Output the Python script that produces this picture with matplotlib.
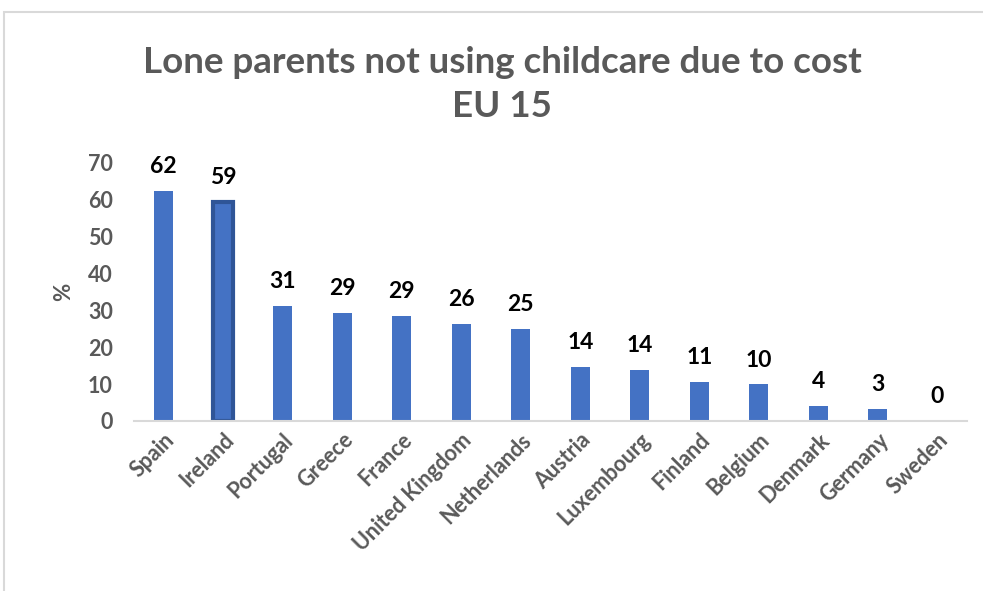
import matplotlib.pyplot as plt
from matplotlib.patches import Rectangle
import numpy as np

plt.rcParams['font.family'] = ['Lato', 'DejaVu Sans']

# data
countries = ['Spain', 'Ireland', 'Portugal', 'Greece', 'France', 'United Kingdom',
             'Netherlands', 'Austria', 'Luxembourg', 'Finland', 'Belgium',
             'Denmark', 'Germany', 'Sweden']
values = [62.4, 59.4, 31.1, 29.2, 28.6, 26.4, 25.0, 14.6, 13.9, 10.7, 9.9, 4.1, 3.3, 0.0]
labels = ['62', '59', '31', '29', '29', '26', '25', '14', '14', '11', '10', '4', '3', '0']
highlight = 'Ireland'

grey = '#595959'
blue = '#4472C4'

fig = plt.figure(figsize=(9.83, 5.91), dpi=100)
ax = fig.add_axes([0.136, 0.2877, 0.848, 0.4365])

x = np.arange(len(countries))
bars = ax.bar(x, values, width=0.32, color=blue, zorder=2)
for b, c in zip(bars, countries):
    if c == highlight:
        b.set_edgecolor('#2F5597')
        b.set_linewidth(3)

for b, lab in zip(bars, labels):
    ax.annotate(lab, (b.get_x() + b.get_width() / 2, b.get_height()),
                xytext=(0, 10), textcoords='offset points', ha='center', va='bottom',
                fontsize=16.5, fontweight='bold', color='black')

ax.set_xlim(-0.5, len(countries) - 0.5)
ax.set_ylim(0, 70)
ax.set_yticks(range(0, 71, 10))
ax.set_xticks(x)
ax.set_xticklabels(countries, rotation=45, ha='right', rotation_mode='anchor')
ax.tick_params(axis='both', length=0, labelsize=15.5, labelcolor=grey)
for t in ax.get_xticklabels() + ax.get_yticklabels():
    t.set_fontweight('bold')
ax.tick_params(axis='y', pad=15)
ax.tick_params(axis='x', pad=6)

for s in ['top', 'right', 'left']:
    ax.spines[s].set_visible(False)
ax.spines['bottom'].set_color('#D9D9D9')
ax.spines['bottom'].set_linewidth(1.5)

ax.set_ylabel('%', fontsize=16, fontweight='bold', color=grey, labelpad=10)

fig.text(0.511, 0.857, 'Lone parents not using childcare due to cost\nEU 15',
         ha='center', va='center', fontsize=26.5, fontweight='bold', color=grey,
         linespacing=1.38)

# outer chart border
fig.patches.append(Rectangle((4 / 983, -0.01), 1.0, 1 - 12 / 591 + 0.01,
                             transform=fig.transFigure, fill=False,
                             edgecolor='#D9D9D9', linewidth=1.5))

fig.savefig('out.png', dpi=100)
